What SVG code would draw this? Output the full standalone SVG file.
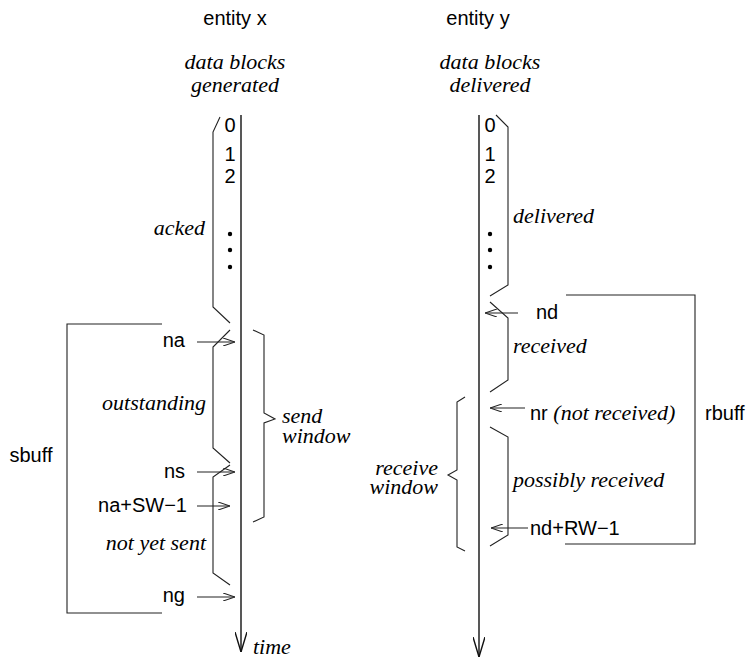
<svg xmlns="http://www.w3.org/2000/svg" width="747" height="660" viewBox="0 0 747 660">
<defs>
<style>
.sans{font-family:"Liberation Sans",Arial,sans-serif;font-size:20px;fill:#000}
.it{font-family:"Liberation Serif","Times New Roman",serif;font-style:italic;font-size:22px;fill:#000}
.br{fill:none;stroke:#222;stroke-width:1.1}
.ar{fill:none;stroke:#222;stroke-width:1.1;marker-end:url(#ah)}
.axis{fill:none;stroke:#111;stroke-width:1.4;marker-end:url(#big)}
</style>
<marker id="ah" viewBox="0 0 12 8" refX="12" refY="4" markerWidth="12" markerHeight="8" markerUnits="userSpaceOnUse" orient="auto">
<path d="M0,0 L12,4 L0,8" fill="none" stroke="#222" stroke-width="1.1"/>
</marker>
<marker id="big" viewBox="0 0 20 12" refX="20" refY="6" markerWidth="20" markerHeight="12" markerUnits="userSpaceOnUse" orient="auto">
<path d="M0,0 L20,6 L0,12" fill="none" stroke="#111" stroke-width="1.4"/>
</marker>
</defs>

<g id="entity-x">
<text class="sans" x="235" y="25" text-anchor="middle">entity x</text>
<text class="it" x="235" y="69" text-anchor="middle">data blocks</text>
<text class="it" x="235" y="92" text-anchor="middle">generated</text>
<line class="axis" x1="241" y1="115" x2="241" y2="652"/>
<text class="it" x="253" y="654">time</text>
<text class="sans" x="230" y="132" text-anchor="middle">0</text>
<text class="sans" x="230" y="161" text-anchor="middle">1</text>
<text class="sans" x="230" y="183" text-anchor="middle">2</text>
<circle cx="230" cy="234" r="2.2"/>
<circle cx="230" cy="250" r="2.2"/>
<circle cx="230" cy="267" r="2.2"/>
</g>

<g id="acked">
<polyline class="br" points="220,117 213,132 213,307 230,323"/>
<text class="it" x="205" y="235" text-anchor="end">acked</text>
</g>

<g id="outstanding">
<polyline class="br" points="230,330 213,347 213,448 230,463"/>
<text class="it" x="206" y="410" text-anchor="end">outstanding</text>
</g>

<g id="not-yet-sent">
<polyline class="br" points="230,465 213,477 213,573 230,585"/>
<text class="it" x="206" y="550" text-anchor="end">not yet sent</text>
</g>

<g id="send-window">
<polyline class="br" points="253,330 264,335 264,413 275,419 264,423 264,517 253,522"/>
<text class="it" x="282" y="423">send</text>
<text class="it" x="282" y="443">window</text>
</g>

<g id="sbuff">
<polyline class="br" points="162,324 67,324 67,613 162,613"/>
<text class="sans" x="31" y="462" text-anchor="middle">sbuff</text>
</g>

<g id="labels-x">
<text class="sans" x="185" y="347" text-anchor="end">na</text>
<text class="sans" x="185" y="478" text-anchor="end">ns</text>
<text class="sans" x="187" y="512" text-anchor="end">na+SW−1</text>
<text class="sans" x="185" y="602" text-anchor="end">ng</text>
</g>

<g id="entity-y">
<text class="sans" x="478" y="25" text-anchor="middle">entity y</text>
<text class="it" x="490" y="69" text-anchor="middle">data blocks</text>
<text class="it" x="490" y="92" text-anchor="middle">delivered</text>
<line class="axis" x1="479" y1="115" x2="479" y2="657"/>
<text class="sans" x="490" y="132" text-anchor="middle">0</text>
<text class="sans" x="490" y="161" text-anchor="middle">1</text>
<text class="sans" x="490" y="183" text-anchor="middle">2</text>
<circle cx="490" cy="234" r="2.2"/>
<circle cx="490" cy="250" r="2.2"/>
<circle cx="490" cy="267" r="2.2"/>
</g>

<g id="delivered">
<polyline class="br" points="496,115 508,127 508,285 490,296"/>
<text class="it" x="513" y="223">delivered</text>
</g>

<g id="received">
<polyline class="br" points="490,302 508,318 508,380 490,392"/>
<text class="it" x="513" y="353">received</text>
</g>

<g id="possibly-received">
<polyline class="br" points="490,427 508,437 508,535 490,546"/>
<text class="it" x="513" y="487">possibly received</text>
</g>

<g id="receive-window">
<polyline class="br" points="465,397 457,402 457,470 448,475 457,480 457,547 465,551"/>
<text class="it" x="438" y="475" text-anchor="end">receive</text>
<text class="it" x="438" y="494" text-anchor="end">window</text>
</g>

<g id="rbuff">
<polyline class="br" points="566,295 695,295 695,544 565,544"/>
<text class="sans" x="705" y="420">rbuff</text>
</g>

<g id="labels-y">
<text class="sans" x="536" y="319">nd</text>
<text class="sans" x="530" y="420">nr <tspan class="it">(not received)</tspan></text>
<text class="sans" x="530" y="535">nd+RW−1</text>
</g>

<g id="connectors">
<line class="ar" x1="197" y1="342" x2="235" y2="342"/>
<line class="ar" x1="197" y1="472" x2="235" y2="472"/>
<line class="ar" x1="197" y1="506" x2="230" y2="506"/>
<line class="ar" x1="197" y1="597" x2="235" y2="597"/>
<line class="ar" x1="518" y1="313" x2="485" y2="313"/>
<line class="ar" x1="525" y1="408" x2="490" y2="408"/>
<line class="ar" x1="528" y1="528" x2="491" y2="528"/>
</g>
</svg>
